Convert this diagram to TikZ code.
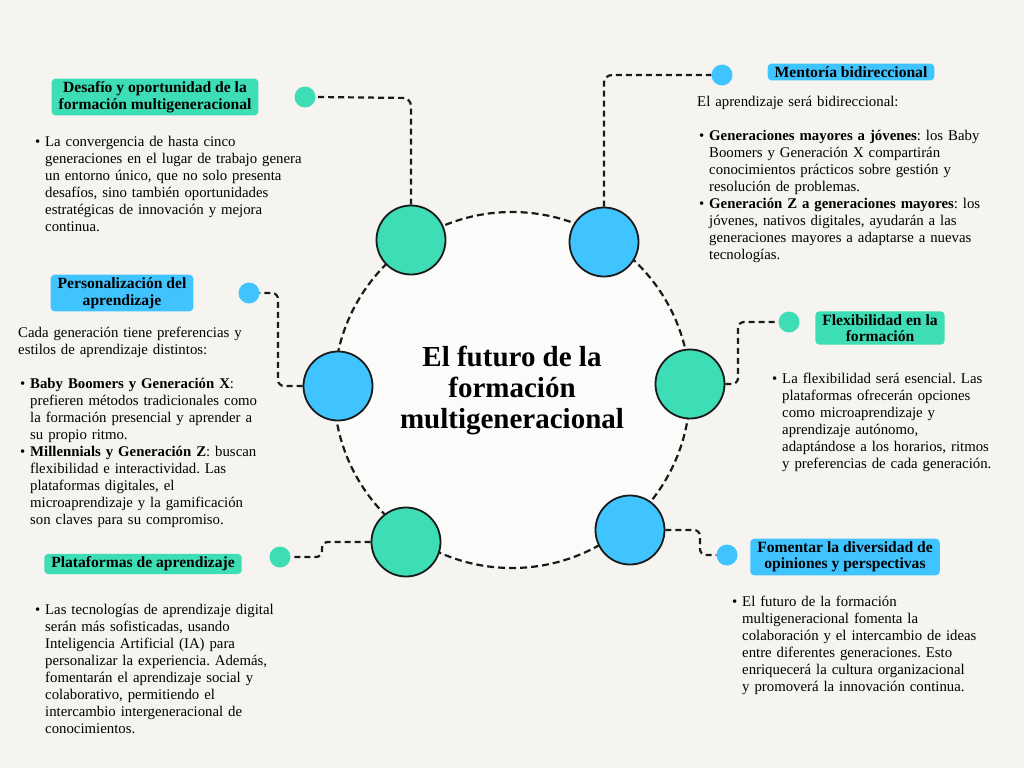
\documentclass[tikz,border=0pt]{standalone}
\usepackage{fontspec}
\setmainfont{Liberation Serif}
\usepackage{enumitem}
\usetikzlibrary{positioning}
\definecolor{bgc}{HTML}{F5F4F0}
\definecolor{grn}{HTML}{3DDDB6}
\definecolor{blu}{HTML}{40C4FF}
\definecolor{ink}{HTML}{1A1A1A}
\tikzset{
  bigring/.style={circle,draw=ink,line width=1.8pt,minimum size=69pt,inner sep=0pt},
  dot/.style={circle,minimum size=21pt,inner sep=0pt},
  link/.style={draw=ink,line width=2.2pt,dash pattern=on 6pt off 4pt},
  tag/.style={rounded corners=4pt,inner xsep=7pt,inner ysep=3pt,font=\bfseries\fontsize{15.6}{16.5}\selectfont,align=center},
  body/.style={anchor=north west,inner sep=0pt,align=left,font=\fontsize{14.8}{17}\selectfont}
}
\setlist[itemize]{leftmargin=12pt,itemsep=0pt,topsep=0pt,parsep=0pt,label=\textbullet}
\begin{document}
\frenchspacing
\begin{tikzpicture}[x=1pt,y=-1pt]
  \fill[bgc] (0,0) rectangle (1024,768);
  \useasboundingbox (0,0) rectangle (1024,768);
  % centre
  \node[circle,draw=ink,fill=white!60!bgc,line width=2.2pt,dash pattern=on 7pt off 4pt,minimum size=356pt](core) at (512,390){};
  \node[font=\bfseries\fontsize{29}{31}\selectfont,align=center] at (512,390){El futuro de la\\formación\\multigeneracional};
  % ring nodes
  \node[bigring,fill=grn](n1) at (411,240){};
  \node[bigring,fill=blu](n2) at (604,242){};
  \node[bigring,fill=blu](n3) at (338,386){};
  \node[bigring,fill=grn](n4) at (690,384){};
  \node[bigring,fill=grn](n5) at (406,542){};
  \node[bigring,fill=blu](n6) at (630,530){};
  % dots
  \node[dot,fill=grn](d1) at (305,97){};
  \node[dot,fill=blu](d2) at (722,75){};
  \node[dot,fill=blu](d3) at (249,293){};
  \node[dot,fill=grn](d4) at (789,322){};
  \node[dot,fill=grn](d5) at (280,557){};
  \node[dot,fill=blu](d6) at (727,555){};
  % links
  \draw[link,rounded corners=8pt] (n1.north) -- (411,98) -- (d1.east);
  \draw[link,rounded corners=8pt] (n2.north) -- (604,75) -- (d2.west);
  \draw[link,rounded corners=6pt] (n3.west) -- (278,386) -- (278,293) -- (d3.east);
  \draw[link,rounded corners=6pt] (n4.east) -- (738,384) -- (738,322) -- (d4.west);
  \draw[link,rounded corners=6pt] (n5.west) -- (322,542) -- (322,557) -- (d5.east);
  \draw[link,rounded corners=6pt] (n6.east) -- (700,530) -- (700,555) -- (d6.west);
  % tags
  \node[tag,fill=grn](t1) at (155,97){Desafío y oportunidad de la\\formación multigeneracional};
  \node[tag,fill=blu](t2) at (851,72){Mentoría bidireccional};
  \node[tag,fill=blu](t3) at (122,293){Personalización del\\aprendizaje};
  \node[tag,fill=grn](t4) at (880,328){Flexibilidad en la\\formación};
  \node[tag,fill=grn](t5) at (143,564){Plataformas de aprendizaje};
  \node[tag,fill=blu](t6) at (845,557){Fomentar la diversidad de\\opiniones y perspectivas};
  % texts
  \node[body,text width=290pt](b1) at (33,129){\begin{itemize}\item La convergencia de hasta cinco\\generaciones en el lugar de trabajo genera\\un entorno único, que no solo presenta\\desafíos, sino también oportunidades\\estratégicas de innovación y mejora\\continua.\end{itemize}};
  \node[body,text width=320pt](b2) at (697,96){El aprendizaje será bidireccional:\\[17pt]
  \begin{itemize}\item \textbf{Generaciones mayores a jóvenes}: los Baby\\Boomers y Generación X compartirán\\conocimientos prácticos sobre gestión y\\resolución de problemas.
  \item \textbf{Generación Z a generaciones mayores}: los\\jóvenes, nativos digitales, ayudarán a las\\generaciones mayores a adaptarse a nuevas\\tecnologías.\end{itemize}};
  \node[body,text width=290pt](b3) at (18,327){Cada generación tiene preferencias y\\estilos de aprendizaje distintos:\\[17pt]
  \begin{itemize}\item \textbf{Baby Boomers y Generación X}:\\prefieren métodos tradicionales como\\la formación presencial y aprender a\\su propio ritmo.
  \item \textbf{Millennials y Generación Z}: buscan\\flexibilidad e interactividad. Las\\plataformas digitales, el\\microaprendizaje y la gamificación\\son claves para su compromiso.\end{itemize}};
  \node[body,text width=250pt](b4) at (770,366){\begin{itemize}\item La flexibilidad será esencial. Las\\plataformas ofrecerán opciones\\como microaprendizaje y\\aprendizaje autónomo,\\adaptándose a los horarios, ritmos\\y preferencias de cada generación.\end{itemize}};
  \node[body,text width=280pt](b5) at (33,597){\begin{itemize}\item Las tecnologías de aprendizaje digital\\serán más sofisticadas, usando\\Inteligencia Artificial (IA) para\\personalizar la experiencia. Además,\\fomentarán el aprendizaje social y\\colaborativo, permitiendo el\\intercambio intergeneracional de\\conocimientos.\end{itemize}};
  \node[body,text width=280pt](b6) at (730,589){\begin{itemize}\item El futuro de la formación\\multigeneracional fomenta la\\colaboración y el intercambio de ideas\\entre diferentes generaciones. Esto\\enriquecerá la cultura organizacional\\y promoverá la innovación continua.\end{itemize}};
\end{tikzpicture}
\end{document}
